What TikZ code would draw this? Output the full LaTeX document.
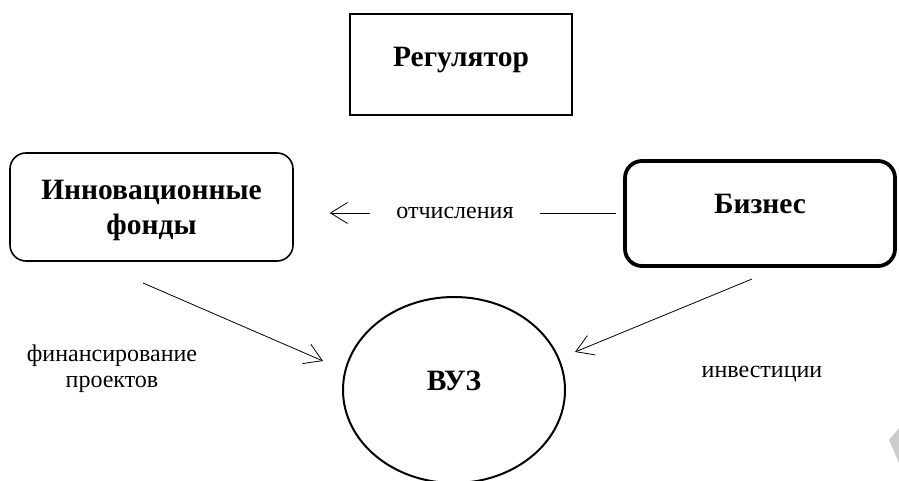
\documentclass[tikz,border=0pt]{standalone}
\usepackage{fontspec}
\setmainfont{Liberation Serif}
\usetikzlibrary{arrows.meta,shapes.geometric}
\begin{document}
\begin{tikzpicture}[x=1pt,y=-1pt,
  boxtext/.style={font=\fontsize{29.5}{35}\selectfont\bfseries, align=center},
  plain/.style={font=\fontsize{24}{26}\selectfont, align=center},
  arr/.style={-{Straight Barb[length=17pt,width=21pt]}, line width=0.8pt},
  thin/.style={line width=0.8pt}]
\useasboundingbox (0,0) rectangle (899,481);
\node[draw, line width=2pt, minimum width=222pt, minimum height=101pt, boxtext] (reg) at (461,64.5) {\raisebox{15pt}{Регулятор}};
\node[draw, line width=1.6pt, rounded corners=16pt, minimum width=283pt, minimum height=108pt, boxtext] (fond) at (151.5,207) {\raisebox{-3pt}[\height][\depth]{\begin{tabular}{@{}c@{}}Инновационные\\фонды\end{tabular}}};
\node[draw, line width=3.8pt, rounded corners=17pt, minimum width=270pt, minimum height=105pt, boxtext] (biz) at (760,213.5) {\raisebox{19pt}{Бизнес}};
\node[draw, ellipse, line width=2pt, minimum width=222pt, minimum height=186pt, boxtext] (vuz) at (454,390) {\raisebox{19pt}{ВУЗ}};
\node[plain, inner xsep=26pt] (otch) at (455,213) {отчисления};
\draw[thin, shorten <=7pt] (biz.west |- otch) -- (otch.east);
\draw[arr, shorten >=36pt] (otch.west) -- (fond.east |- otch);
\coordinate (fa) at (143,283);
\coordinate (fb) at (323,361);
\draw[arr] (fa) -- (fb);
\coordinate (ia) at (752,279);
\coordinate (ib) at (575,352);
\draw[arr] (ia) -- (ib);
\node[plain] (fin) at (112,369) {финансирование\\проектов};
\node[plain] (inv) at (762,374) {инвестиции};
\fill[gray!40] (889,440) -- (899,428) -- (899,463) -- cycle;
\end{tikzpicture}
\end{document}
